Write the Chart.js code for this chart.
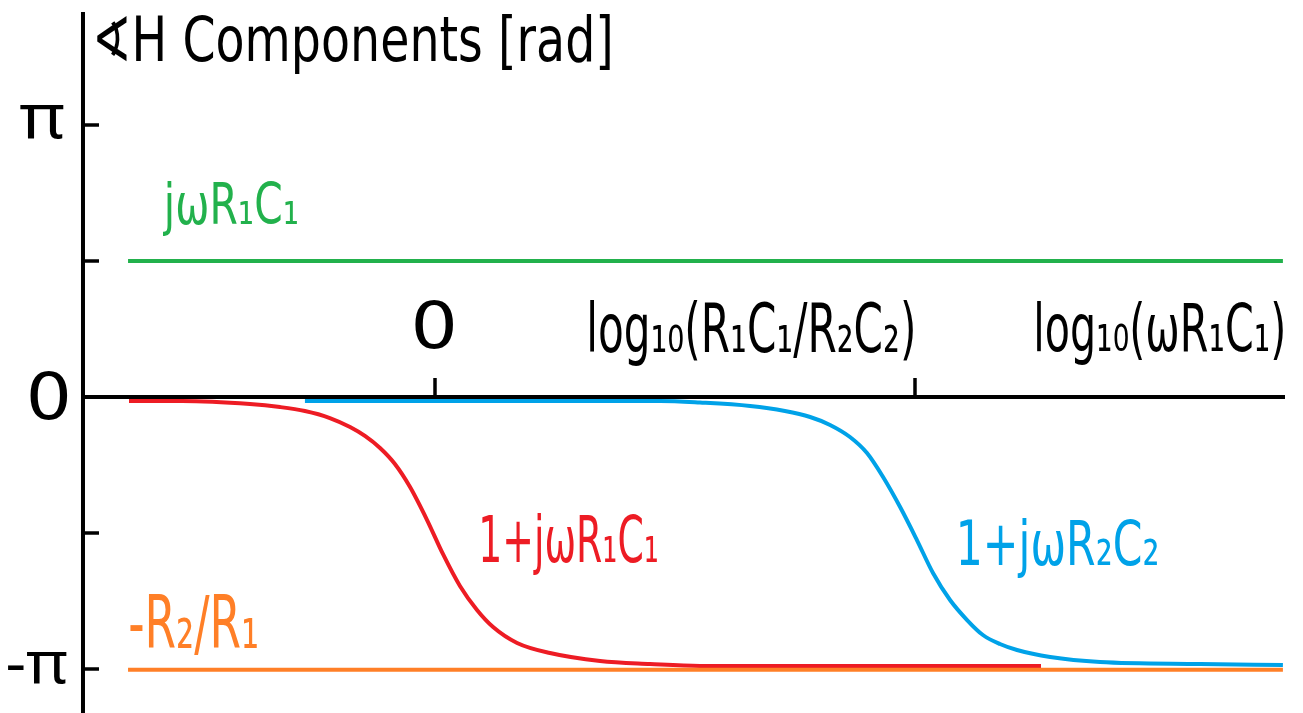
<!DOCTYPE html>
<html>
<head>
<meta charset="utf-8">
<script src="https://cdn.jsdelivr.net/npm/chart.js@4/dist/chart.umd.min.js"></script>
<style>
  html, body { margin: 0; padding: 0; background: #ffffff; }
  #wrap { width: 1303px; height: 713px; }
</style>
</head>
<body>
<div id="wrap"><canvas id="c" width="1303" height="713"></canvas></div>
<script>
// ---------- data (x: log10(ωR1C1), y: phase in rad) ----------
const redX   = [-1.275, -1.054, -0.771, -0.646, -0.542, -0.438, -0.354, -0.292, -0.229, -0.167, -0.104, -0.033, 0.033, 0.104, 0.175, 0.242, 0.342, 0.479, 0.688, 0.896, 1.104, 2.525];
const redY   = [-0.046, -0.046, -0.081, -0.116, -0.162, -0.243, -0.347, -0.450, -0.589, -0.774, -1.040, -1.421, -1.813, -2.183, -2.460, -2.657, -2.841, -2.957, -3.049, -3.084, -3.107, -3.107];
const blueX  = [-0.542, 0.938, 1.104, 1.313, 1.458, 1.563, 1.646, 1.729, 1.800, 1.867, 1.938, 2.008, 2.075, 2.146, 2.217, 2.283, 2.354, 2.425, 2.563, 2.771, 3.188, 3.533];
const blueY  = [-0.046, -0.046, -0.064, -0.104, -0.162, -0.231, -0.323, -0.462, -0.647, -0.924, -1.271, -1.652, -2.033, -2.345, -2.576, -2.749, -2.853, -2.922, -3.003, -3.061, -3.084, -3.095];
const greenX = [-1.279, 3.533];
const greenY = [1.571, 1.571];
const orangeX = [-1.279, 3.533];
const orangeY = [-3.150, -3.150];

const xTickValues = [0, 2];
const xTickLabels = ['0', 'log\u2081\u2080(R\u2081C\u2081/R\u2082C\u2082)'];
const yTickValues = [Math.PI, Math.PI / 2, -Math.PI / 2, -Math.PI];
const yLabelValues = [Math.PI, 0, -Math.PI];
const yLabelTexts = ['\u03C0', '0', '-\u03C0'];
const xAxisTitle = 'log\u2081\u2080(\u03C9R\u2081C\u2081)';
const yAxisTitle = '\u2222H Components [rad]';
const seriesNames = ['-R\u2082/R\u2081', 'j\u03C9R\u2081C\u2081', '1+j\u03C9R\u2081C\u2081', '1+j\u03C9R\u2082C\u2082'];

// ---------- helpers ----------
const FONT = '"DejaVu Sans", "Liberation Sans", sans-serif';
const FONT_PI = '"Noto Sans", "DejaVu Sans", sans-serif';
const pts = (xs, ys) => xs.map((x, i) => ({ x: x, y: ys[i] }));

function fitText(ctx, text, x0, y0, x1, y1, color, family) {
  ctx.save();
  ctx.font = '100px ' + (family || FONT);
  ctx.textAlign = 'left';
  ctx.textBaseline = 'alphabetic';
  const m = ctx.measureText(text);
  const inkW = m.actualBoundingBoxLeft + m.actualBoundingBoxRight;
  const inkH = m.actualBoundingBoxAscent + m.actualBoundingBoxDescent;
  const sx = (x1 - x0) / inkW;
  const sy = (y1 - y0) / inkH;
  ctx.translate(x0 + m.actualBoundingBoxLeft * sx, y0 + m.actualBoundingBoxAscent * sy);
  ctx.scale(sx, sy);
  ctx.fillStyle = color;
  ctx.fillText(text, 0, 0);
  ctx.restore();
}

const COL = { red: '#ED1C24', blue: '#00A2E8', green: '#22B14C', orange: '#FF7F27', black: '#000000' };

const axesPlugin = {
  id: 'handAxes',
  beforeDatasetsDraw(chart) {
    const ctx = chart.ctx, xs = chart.scales.x, ys = chart.scales.y;
    const ax = xs.getPixelForValue(-1.4667);
    const ay = ys.getPixelForValue(0);
    ctx.save();
    ctx.strokeStyle = COL.black;
    ctx.lineWidth = 4;
    ctx.lineCap = 'butt';
    ctx.beginPath();
    ctx.moveTo(ax, ys.getPixelForValue(4.447));
    ctx.lineTo(ax, chart.chartArea.bottom);
    ctx.stroke();
    ctx.beginPath();
    ctx.moveTo(ax, ay);
    ctx.lineTo(xs.getPixelForValue(3.5417), ay);
    ctx.stroke();
    ctx.lineWidth = 3.5;
    yTickValues.forEach(v => {
      const py = ys.getPixelForValue(v);
      ctx.beginPath();
      ctx.moveTo(ax, py);
      ctx.lineTo(ax + 16, py);
      ctx.stroke();
    });
    xTickValues.forEach(v => {
      const px = xs.getPixelForValue(v);
      ctx.beginPath();
      ctx.moveTo(px, ay);
      ctx.lineTo(px, ay - 19);
      ctx.stroke();
    });
    ctx.restore();
  },
  afterDraw(chart) {
    const ctx = chart.ctx;
    fitText(ctx, yAxisTitle, 97, 14, 610, 74, COL.black);
    fitText(ctx, yLabelTexts[0], 20, 105, 64, 139, COL.black, FONT_PI);
    fitText(ctx, yLabelTexts[1], 30, 372, 67, 420, COL.black);
    fitText(ctx, yLabelTexts[2], 8, 652, 67, 684, COL.black, FONT_PI);
    fitText(ctx, xTickLabels[0], 415, 300, 453, 349, COL.black);
    fitText(ctx, xTickLabels[1], 590, 300, 913, 366, COL.black);
    fitText(ctx, xAxisTitle, 1037, 301, 1283, 365, COL.black);
    fitText(ctx, seriesNames[1], 163, 180, 297, 236, COL.green);
    fitText(ctx, seriesNames[0], 130, 595, 257, 655, COL.orange);
    fitText(ctx, seriesNames[2], 482, 513, 657, 575, COL.red);
    fitText(ctx, seriesNames[3], 960, 517, 1157, 578, COL.blue);
  }
};

const common = { pointRadius: 0, borderWidth: 4, fill: false, cubicInterpolationMode: 'monotone', borderCapStyle: 'butt' };

new Chart(document.getElementById('c'), {
  type: 'line',
  data: {
    datasets: [
      Object.assign({ label: seriesNames[0], data: pts(orangeX, orangeY), borderColor: COL.orange }, common),
      Object.assign({ label: seriesNames[1], data: pts(greenX, greenY), borderColor: COL.green }, common),
      Object.assign({ label: seriesNames[3], data: pts(blueX, blueY), borderColor: COL.blue }, common),
      Object.assign({ label: seriesNames[2], data: pts(redX, redY), borderColor: COL.red }, common)
    ]
  },
  plugins: [axesPlugin],
  options: {
    responsive: false,
    devicePixelRatio: 1,
    animation: false,
    layout: { padding: 0 },
    plugins: { legend: { display: false }, tooltip: { enabled: false } },
    scales: {
      x: { type: 'linear', min: -1.8125, max: 3.6167, display: false },
      y: { type: 'linear', min: -3.6498, max: 4.5853, display: false }
    }
  }
});
</script>
</body>
</html>
